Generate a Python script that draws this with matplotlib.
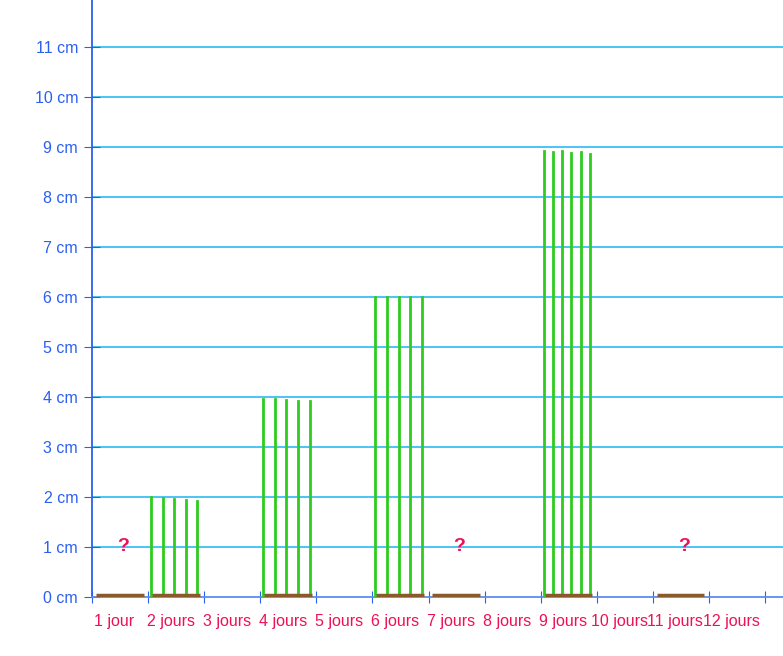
import numpy as np
import matplotlib.pyplot as plt

days = ['1 jour', '2 jours', '3 jours', '4 jours', '5 jours', '6 jours',
        '7 jours', '8 jours', '9 jours', '10 jours', '11 jours', '12 jours']
y_labels = ['%d cm' % i for i in range(12)]

# measured days: blade heights (cm)
grass = {
    2: [2.0, 1.98, 1.95, 1.93, 1.92],
    4: [3.96, 3.95, 3.93, 3.92, 3.91],
    6: [6.0, 6.0, 6.0, 5.99, 5.99],
    9: [8.92, 8.9, 8.92, 8.88, 8.9, 8.86],
}
soil_days = [1, 2, 4, 6, 7, 9, 11]
unknown_days = [1, 7, 11]

fig = plt.figure(figsize=(7.83, 6.56), dpi=100)
ax = fig.add_axes([0.1175, 0.09, 0.8825, 0.91])

blue = '#2a5ff2'
light = '#1ab4f2'
pink = '#ee1155'
green = '#2ecc1f'
brown = '#8b5a2b'
font = ['Liberation Sans', 'DejaVu Sans']

ax.set_xlim(0, 12.32)
ax.set_ylim(0, 11.94)

for y in range(1, 12):
    ax.axhline(y, color=light, lw=1.1, zorder=1)

for d, hs in grass.items():
    xs = np.linspace(d - 0.95, d - 0.12, len(hs))
    for x, h in zip(xs, hs):
        ax.plot([x, x], [0.02, h], color=green, lw=2, zorder=3)

for d in soil_days:
    ax.plot([d - 0.93, d - 0.08], [0.03, 0.03], color=brown, lw=2.5,
            solid_capstyle='butt', zorder=4)

for d in unknown_days:
    ax.text(d - 0.45, 1.0, '?', color=pink, fontsize=14, fontweight='bold',
            ha='center', va='center', family=font)

for s in ['top', 'right']:
    ax.spines[s].set_visible(False)
ax.spines['left'].set_color(blue)
ax.spines['left'].set_linewidth(1.3)
ax.spines['bottom'].set_color('#5a8cf0')
ax.spines['bottom'].set_linewidth(1.3)

ax.set_yticks(range(12))
ax.set_yticklabels(y_labels, color=blue, fontsize=11.5, family=font)
ax.tick_params(axis='y', direction='inout', length=12, color=blue, pad=4)

ax.set_xticks(range(13))
ax.set_xticklabels([])
ax.tick_params(axis='x', which='major', direction='inout', length=8,
               color=blue)
ax.set_xticks(np.arange(12) + 0.4, minor=True)
ax.set_xticklabels(days, minor=True, color=pink, fontsize=11.5, family=font)
ax.tick_params(axis='x', which='minor', length=0, pad=12)

fig.savefig('out.png', dpi=100)
